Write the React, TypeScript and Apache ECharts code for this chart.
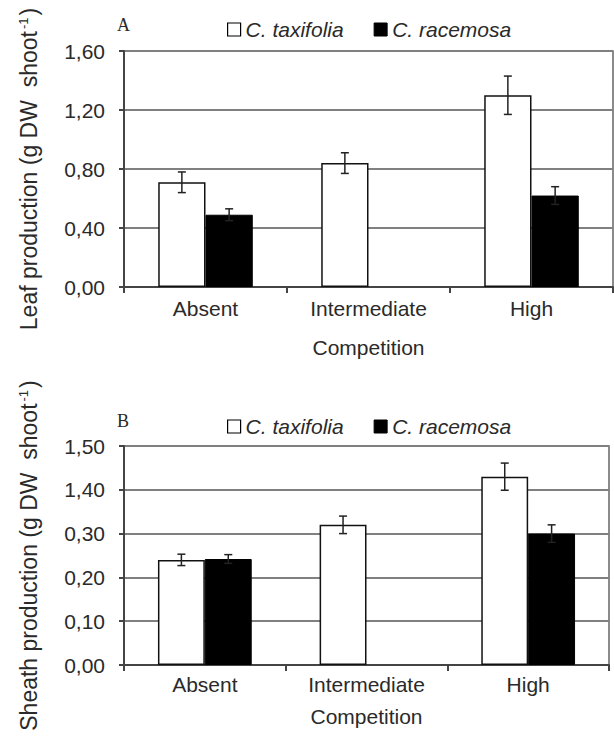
import { useEffect, useRef } from 'react';
import * as echarts from 'echarts';

const categories = ['Absent', 'Intermediate', 'High'];
const seriesNames = ['C. taxifolia', 'C. racemosa'];

const leafTaxifolia = [0.71, 0.84, 1.3];
const leafTaxifoliaErr = [0.07, 0.07, 0.13];
const leafRacemosa: (number | null)[] = [0.49, null, 0.62];
const leafRacemosaErr: (number | null)[] = [0.04, null, 0.06];

const sheathTaxifolia = [0.24, 0.32, 0.43];
const sheathTaxifoliaErr = [0.013, 0.02, 0.031];
const sheathRacemosa: (number | null)[] = [0.242, null, 0.3];
const sheathRacemosaErr: (number | null)[] = [0.01, null, 0.02];

const leafTicks = ['0,00', '0,40', '0,80', '1,20', '1,60'];
const sheathTicks = ['0,00', '0,10', '0,20', '0,30', '1,40', '1,50'];

const FONT = '"Liberation Sans", Arial, sans-serif';
const TEXT = '#2a2a2a';

function errData(vals: (number | null)[], errs: (number | null)[]) {
  const out: number[][] = [];
  vals.forEach((v, i) => {
    if (v != null && errs[i] != null) out.push([i, v - (errs[i] as number), v + (errs[i] as number)]);
  });
  return out;
}

function errRender(side: number) {
  return (params: any, api: any) => {
    const i = api.value(0);
    const lo = api.value(1);
    const hi = api.value(2);
    const w = api.size([1, 0])[0];
    const t = api.coord([i, hi]);
    const b = api.coord([i, lo]);
    const x = t[0] + side * w * 0.145;
    const cap = 4;
    const st = { stroke: '#222', lineWidth: 1.5 };
    return {
      type: 'group',
      children: [
        { type: 'line', shape: { x1: x, y1: t[1], x2: x, y2: b[1] }, style: st },
        { type: 'line', shape: { x1: x - cap, y1: t[1], x2: x + cap, y2: t[1] }, style: st },
        { type: 'line', shape: { x1: x - cap, y1: b[1], x2: x + cap, y2: b[1] }, style: st },
      ],
    };
  };
}

function makeLegend(top: number) {
  return {
    top,
    left: 222,
    itemWidth: 13,
    itemHeight: 13,
    itemGap: 30,
    icon: 'rect',
    textStyle: { fontFamily: FONT, fontSize: 21, fontStyle: 'italic', color: TEXT },
    data: [
      { name: seriesNames[0], itemStyle: { color: '#fff', borderColor: '#000', borderWidth: 1.2 } },
      { name: seriesNames[1], itemStyle: { color: '#000', borderColor: '#000', borderWidth: 1 } },
    ],
  };
}

function makeX(gridIndex: number, margin: number, nameGap: number) {
  return {
    type: 'category',
    gridIndex,
    data: categories,
    name: 'Competition',
    nameLocation: 'middle',
    nameGap,
    nameTextStyle: { fontFamily: FONT, fontSize: 21, color: TEXT },
    axisLine: { lineStyle: { color: '#444', width: 2 } },
    axisTick: { show: true, length: 6, lineStyle: { color: '#444', width: 2 } },
    axisLabel: { fontFamily: FONT, fontSize: 21, color: TEXT, margin },
  };
}

function makeY(gridIndex: number, max: number, interval: number, ticks: string[], title: string, nameGap: number) {
  return {
    type: 'value',
    gridIndex,
    min: 0,
    max,
    interval,
    name: '{t|' + title + '}{s|-1}{t|)}',
    nameLocation: 'middle',
    nameRotate: 90,
    nameGap,
    nameTextStyle: {
      rich: {
        t: { fontFamily: FONT, fontSize: 23, color: TEXT },
        s: { fontFamily: FONT, fontSize: 13, color: TEXT, verticalAlign: 'top', padding: [0, 2, 0, 2] },
      },
    },
    axisLine: { show: true, lineStyle: { color: '#444', width: 2 } },
    axisTick: { show: true, length: 5, lineStyle: { color: '#444', width: 2 } },
    axisLabel: {
      fontFamily: FONT,
      fontSize: 21,
      color: TEXT,
      margin: 19,
      formatter: (v: number) => ticks[Math.round(v / interval)] ?? '',
    },
    splitLine: { show: true, lineStyle: { color: '#808080', width: 2 } },
  };
}

const whiteBar = { color: '#fff', borderColor: '#111', borderWidth: 1.5 };
const blackBar = { color: '#000', borderColor: '#000', borderWidth: 1 };

export default function App() {
  const ref = useRef<HTMLDivElement>(null);
  useEffect(() => {
    if (!ref.current) return;
    const chart = echarts.init(ref.current, null, { renderer: 'svg' });
    chart.setOption({
      animation: false,
      backgroundColor: '#fff',
      legend: [makeLegend(14), makeLegend(411)],
      grid: [
        { left: 124, top: 51, right: 1, height: 236, show: true, borderColor: '#666', borderWidth: 1.5 },
        { left: 124, top: 446, right: 5, height: 219, show: true, borderColor: '#666', borderWidth: 1.5 },
      ],
      xAxis: [makeX(0, 11, 50), makeX(1, 9, 41)],
      yAxis: [
        makeY(0, 1.6, 0.4, leafTicks, 'Leaf production (g DW  shoot', 84),
        makeY(1, 0.5, 0.1, sheathTicks, 'Sheath production (g DW  shoot', 84),
      ],
      graphic: [
        { type: 'text', left: 117, top: 16, style: { text: 'A', font: '18px "Liberation Serif", "Times New Roman", serif', fill: TEXT } },
        { type: 'text', left: 117, top: 412, style: { text: 'B', font: '18px "Liberation Serif", "Times New Roman", serif', fill: TEXT } },
      ],
      series: [
        { name: seriesNames[0], type: 'bar', xAxisIndex: 0, yAxisIndex: 0, data: leafTaxifolia, itemStyle: whiteBar, barGap: '0%', barCategoryGap: '42%' },
        { name: seriesNames[1], type: 'bar', xAxisIndex: 0, yAxisIndex: 0, data: leafRacemosa, itemStyle: blackBar, barGap: '0%', barCategoryGap: '42%' },
        { name: seriesNames[0], type: 'bar', xAxisIndex: 1, yAxisIndex: 1, data: sheathTaxifolia, itemStyle: whiteBar, barGap: '0%', barCategoryGap: '42%' },
        { name: seriesNames[1], type: 'bar', xAxisIndex: 1, yAxisIndex: 1, data: sheathRacemosa, itemStyle: blackBar, barGap: '0%', barCategoryGap: '42%' },
        { name: 'errLeafT', type: 'custom', xAxisIndex: 0, yAxisIndex: 0, renderItem: errRender(-1), data: errData(leafTaxifolia, leafTaxifoliaErr), encode: { x: 0, y: [1, 2] }, z: 5 },
        { name: 'errLeafR', type: 'custom', xAxisIndex: 0, yAxisIndex: 0, renderItem: errRender(1), data: errData(leafRacemosa, leafRacemosaErr), encode: { x: 0, y: [1, 2] }, z: 5 },
        { name: 'errSheathT', type: 'custom', xAxisIndex: 1, yAxisIndex: 1, renderItem: errRender(-1), data: errData(sheathTaxifolia, sheathTaxifoliaErr), encode: { x: 0, y: [1, 2] }, z: 5 },
        { name: 'errSheathR', type: 'custom', xAxisIndex: 1, yAxisIndex: 1, renderItem: errRender(1), data: errData(sheathRacemosa, sheathRacemosaErr), encode: { x: 0, y: [1, 2] }, z: 5 },
      ],
    });
    return () => chart.dispose();
  }, []);
  return <div ref={ref} style={{ position: 'fixed', left: 0, top: 0, width: 614, height: 738 }} />;
}
